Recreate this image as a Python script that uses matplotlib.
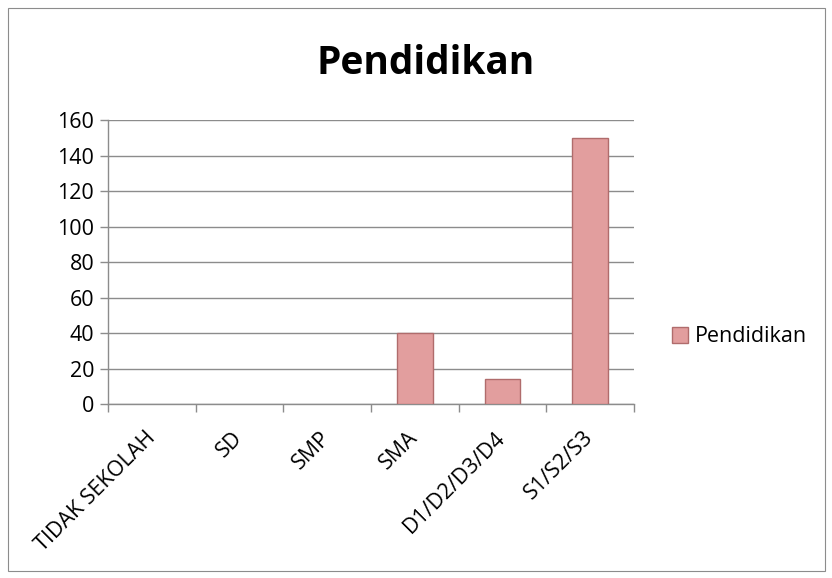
import matplotlib.pyplot as plt
from matplotlib.patches import Rectangle
from matplotlib.transforms import ScaledTranslation
import numpy as np

plt.rcParams['font.family'] = ['Open Sans', 'DejaVu Sans']

categories = ["TIDAK SEKOLAH", "SD", "SMP", "SMA", "D1/D2/D3/D4", "S1/S2/S3"]
values = [0, 0, 0, 40, 14, 150]
series_name = "Pendidikan"
yticks = [0, 20, 40, 60, 80, 100, 120, 140, 160]

fs = 15.5
fig = plt.figure(figsize=(8.32, 5.78), dpi=100)
fig.patches.append(Rectangle((0.01, 0.012), 0.982, 0.975, transform=fig.transFigure,
                             fill=False, edgecolor="#8c8c8c", linewidth=0.8))
ax = fig.add_axes([0.130, 0.301, 0.632, 0.491])

x = np.arange(len(categories))
bars = ax.bar(x, values, width=0.41, color="#e29e9e", edgecolor="#b06c6c",
              linewidth=1.0, zorder=3)
for b, v in zip(bars, values):
    if v == 0:
        b.set_visible(False)

ax.set_xlim(-0.5, len(categories) - 0.5)
ax.set_ylim(0, 160)
ax.set_yticks(yticks)
ax.yaxis.grid(True, color="#8c8c8c", linewidth=1.0, zorder=0)
ax.set_axisbelow(True)

ax.set_xticks(x)
ax.set_xticklabels(categories, rotation=45, ha="right", va="center",
                   rotation_mode="anchor", fontsize=fs)
shift = ScaledTranslation(5 / 72, -1 / 72, fig.dpi_scale_trans)
for lab in ax.get_xticklabels():
    lab.set_transform(lab.get_transform() + shift)
ax.set_xticks(np.arange(-0.5, len(categories)), minor=True)
ax.tick_params(axis="x", which="major", length=0, pad=22)
ax.tick_params(axis="x", which="minor", length=6, color="#8c8c8c", width=1)
ax.tick_params(axis="y", length=6, color="#8c8c8c", width=1, labelsize=fs, pad=4)

for s in ["top", "right"]:
    ax.spines[s].set_visible(False)
for s in ["left", "bottom"]:
    ax.spines[s].set_color("#8c8c8c")
    ax.spines[s].set_linewidth(1.0)

fig.text(0.512, 0.89, "Pendidikan", ha="center", va="center", fontsize=28, fontweight="bold")

handle = Rectangle((0, 0), 1, 1, facecolor="#e29e9e", edgecolor="#b06c6c", linewidth=1.0)
fig.legend([handle], [series_name], loc="center left", bbox_to_anchor=(0.808, 1 - 337 / 578),
           frameon=False, fontsize=fs, borderpad=0, borderaxespad=0,
           handlelength=0.75, handleheight=0.75, handletextpad=0.3)

fig.savefig("out.png", dpi=100)
